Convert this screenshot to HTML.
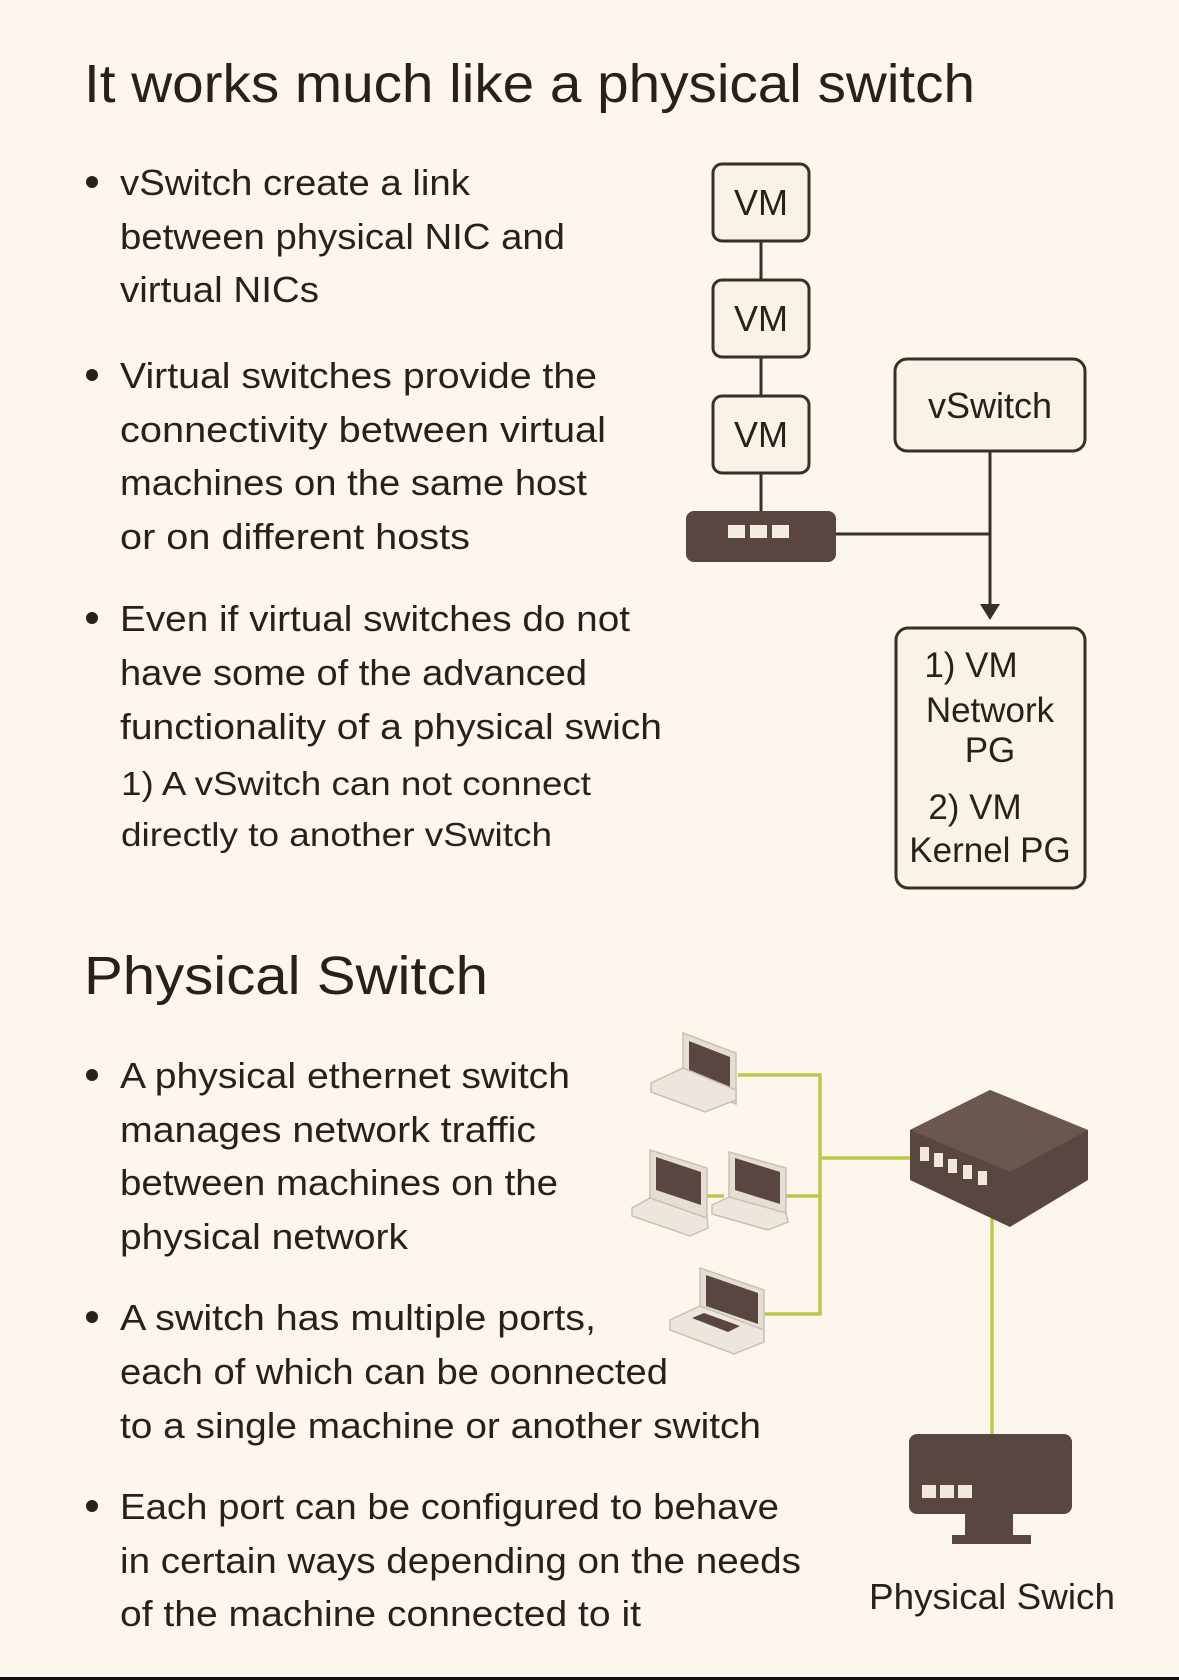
<!DOCTYPE html>
<html><head><meta charset="utf-8"><style>
html,body{margin:0;padding:0;background:#fdf6ec;}
svg{display:block}
text{font-family:"Liberation Sans",sans-serif;fill:#2a1f1b}
</style></head><body>
<svg width="1179" height="1680" viewBox="0 0 1179 1680" xmlns="http://www.w3.org/2000/svg">
<rect width="1179" height="1680" fill="#fdf6ec"/>
<rect y="1677" width="1179" height="3" fill="#111"/>

<g font-size="54">
<text x="84" y="102" textLength="891" lengthAdjust="spacingAndGlyphs">It works much like a physical switch</text>
<text x="84" y="994" textLength="404" lengthAdjust="spacingAndGlyphs">Physical Switch</text>
</g>

<g fill="#2a1f1b">
<circle cx="92" cy="182" r="6"/><circle cx="92" cy="375" r="6"/><circle cx="92" cy="618" r="6"/>
<circle cx="92" cy="1075" r="6"/><circle cx="92" cy="1317" r="6"/><circle cx="92" cy="1506" r="6"/>
</g>

<g font-size="36">
<text x="120" y="195" textLength="350" lengthAdjust="spacingAndGlyphs">vSwitch create a link</text>
<text x="120" y="249" textLength="445" lengthAdjust="spacingAndGlyphs">between physical NIC and</text>
<text x="120" y="302" textLength="199" lengthAdjust="spacingAndGlyphs">virtual NICs</text>
<text x="120" y="388" textLength="477" lengthAdjust="spacingAndGlyphs">Virtual switches provide the</text>
<text x="120" y="442" textLength="486" lengthAdjust="spacingAndGlyphs">connectivity between virtual</text>
<text x="120" y="495" textLength="467" lengthAdjust="spacingAndGlyphs">machines on the same host</text>
<text x="120" y="549" textLength="350" lengthAdjust="spacingAndGlyphs">or on different hosts</text>
<text x="120" y="631" textLength="510" lengthAdjust="spacingAndGlyphs">Even if virtual switches do not</text>
<text x="120" y="685" textLength="467" lengthAdjust="spacingAndGlyphs">have some of the advanced</text>
<text x="120" y="739" textLength="542" lengthAdjust="spacingAndGlyphs">functionality of a physical swich</text>
<text x="121" y="795" font-size="33" textLength="470" lengthAdjust="spacingAndGlyphs">1) A vSwitch can not connect</text>
<text x="121" y="846" font-size="33" textLength="431" lengthAdjust="spacingAndGlyphs">directly to another vSwitch</text>

<text x="120" y="1088" textLength="450" lengthAdjust="spacingAndGlyphs">A physical ethernet switch</text>
<text x="120" y="1142" textLength="416" lengthAdjust="spacingAndGlyphs">manages network traffic</text>
<text x="120" y="1195" textLength="438" lengthAdjust="spacingAndGlyphs">between machines on the</text>
<text x="120" y="1249" textLength="288" lengthAdjust="spacingAndGlyphs">physical network</text>
<text x="120" y="1330" textLength="476" lengthAdjust="spacingAndGlyphs">A switch has multiple ports,</text>
<text x="120" y="1384" textLength="548" lengthAdjust="spacingAndGlyphs">each of which can be oonnected</text>
<text x="120" y="1438" textLength="641" lengthAdjust="spacingAndGlyphs">to a single machine or another switch</text>
<text x="120" y="1519" textLength="659" lengthAdjust="spacingAndGlyphs">Each port can be configured to behave</text>
<text x="120" y="1573" textLength="681" lengthAdjust="spacingAndGlyphs">in certain ways depending on the needs</text>
<text x="120" y="1626" textLength="521" lengthAdjust="spacingAndGlyphs">of the machine connected to it</text>
</g>

<!-- vSwitch diagram -->
<g stroke="#3a2e2a" stroke-width="3" fill="none">
<line x1="761" y1="241" x2="761" y2="280"/>
<line x1="761" y1="357" x2="761" y2="396"/>
<line x1="761" y1="473" x2="761" y2="511"/>
<line x1="836" y1="534" x2="990" y2="534"/>
<line x1="990" y1="451" x2="990" y2="606"/>
</g>
<polygon points="980,604 1000,604 990,620" fill="#3a2e2a"/>
<g fill="#fbf1e4" stroke="#3a2e2a" stroke-width="3">
<rect x="713" y="164" width="96" height="77" rx="9"/>
<rect x="713" y="280" width="96" height="77" rx="9"/>
<rect x="713" y="396" width="96" height="77" rx="9"/>
<rect x="895" y="359" width="190" height="92" rx="12"/>
<rect x="896" y="628" width="189" height="260" rx="12"/>
</g>
<g font-size="36" text-anchor="middle">
<text x="761" y="215">VM</text>
<text x="761" y="331">VM</text>
<text x="761" y="447">VM</text>
<text x="990" y="418">vSwitch</text>
</g>
<g font-size="35" text-anchor="middle">
<text x="971" y="677">1) VM</text>
<text x="990" y="722">Network</text>
<text x="990" y="762">PG</text>
<text x="975" y="819">2) VM</text>
<text x="990" y="862">Kernel PG</text>
</g>
<rect x="686" y="511" width="150" height="51" rx="8" fill="#5a4640"/>
<g fill="#f4ece0"><rect x="728" y="525" width="17" height="13"/><rect x="750" y="525" width="17" height="13"/><rect x="772" y="525" width="17" height="13"/></g>

<!-- Physical diagram -->
<g stroke="#b8c84a" stroke-width="3.5" fill="none">
<polyline points="738,1075 820,1075 820,1314 765,1314"/>
<line x1="820" y1="1158" x2="912" y2="1158"/>
<line x1="704" y1="1196" x2="724" y2="1196"/>
<line x1="786" y1="1196" x2="820" y2="1196"/>
<line x1="992" y1="1215" x2="992" y2="1436"/>
</g>

<!-- laptops -->
<g id="lp">
</g>
<g stroke="#c9c0b4" stroke-width="1.5">
<!-- laptop1 -->
<polygon points="683,1033 736,1053 736,1104 683,1084" fill="#e6ded2"/>
<polygon points="689,1041 730,1057 730,1092 689,1076" fill="#5a4640" stroke="none"/>
<polygon points="651,1083 683,1068 736,1090 736,1100 705,1112 651,1092" fill="#ece6dc"/>
<!-- laptop 2a -->
<polygon points="650,1150 707,1168 707,1218 650,1200" fill="#e6ded2"/>
<polygon points="656,1157 701,1172 701,1205 656,1190" fill="#5a4640" stroke="none"/>
<polygon points="632,1208 650,1198 707,1218 708,1228 690,1236 632,1216" fill="#ece6dc"/>
<!-- laptop 2b -->
<polygon points="729,1152 786,1168 786,1215 729,1199" fill="#e6ded2"/>
<polygon points="735,1158 780,1172 780,1204 735,1190" fill="#5a4640" stroke="none"/>
<polygon points="712,1205 729,1197 786,1213 788,1222 768,1230 712,1214" fill="#ece6dc"/>
<!-- laptop 3 -->
<polygon points="700,1268 764,1290 764,1334 700,1312" fill="#e6ded2"/>
<polygon points="706,1275 758,1293 758,1324 706,1306" fill="#5a4640" stroke="none"/>
<polygon points="670,1320 700,1306 764,1330 764,1342 734,1354 670,1330" fill="#ece6dc"/>
<polygon points="692,1318 704,1313 740,1326 728,1332" fill="#5a4640" stroke="none"/>
</g>

<!-- switch iso -->
<polygon points="910,1130 990,1090 1088,1130 1088,1180 1010,1227 910,1180" fill="#5a4640"/>
<polygon points="910,1130 990,1090 1088,1130 1010,1172" fill="#6b5650"/>
<g fill="#f1e8dc">
<rect x="920" y="1147" width="9" height="14"/><rect x="934" y="1153" width="9" height="14"/>
<rect x="948" y="1159" width="9" height="14"/><rect x="963" y="1165" width="9" height="14"/>
<rect x="978" y="1171" width="9" height="14"/>
</g>

<!-- monitor -->
<rect x="909" y="1434" width="163" height="80" rx="8" fill="#5a4640"/>
<g fill="#f1e8dc"><rect x="922" y="1485" width="14" height="13"/><rect x="940" y="1485" width="14" height="13"/><rect x="958" y="1485" width="14" height="13"/></g>
<rect x="965" y="1514" width="48" height="21" fill="#5a4640"/>
<rect x="952" y="1535" width="79" height="9" fill="#5a4640"/>
<text x="992" y="1609" font-size="36" text-anchor="middle" textLength="246" lengthAdjust="spacingAndGlyphs">Physical Swich</text>
</svg>
</body></html>
